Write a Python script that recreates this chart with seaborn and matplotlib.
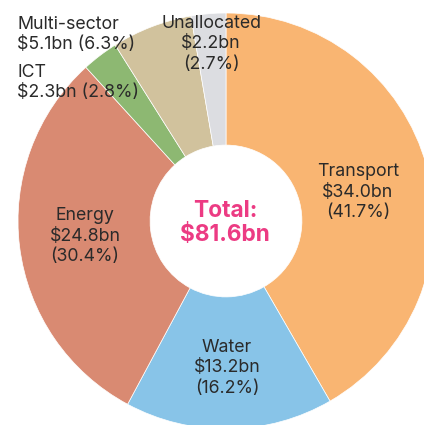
import numpy as np
import matplotlib
matplotlib.use("Agg")
import matplotlib.pyplot as plt
import seaborn as sns

# data (clockwise from 12 o'clock)
sectors = ["Transport", "Water", "Energy", "ICT", "Multi-sector", "Unallocated"]
values = [34.0, 13.2, 24.8, 2.3, 5.1, 2.2]
shares = [41.7, 16.2, 30.4, 2.8, 6.3, 2.7]
colors = ["#F9B572", "#88C4E8", "#D98A72", "#8DB872", "#D1C29D", "#DCDDE1"]
total = 81.6

sns.set_theme(style="white")
plt.rcParams["font.family"] = ["Inter", "DejaVu Sans"]

fig = plt.figure(figsize=(4.24, 4.25), dpi=100)
ax = fig.add_axes([0, 0, 1, 1])

# pixel geometry of the ring in the reference
cx, cy, R = 226, 221, 208
W, H = 424, 425

wedges, _ = ax.pie(values, colors=colors, startangle=90, counterclock=False,
                   radius=1, wedgeprops=dict(width=0.635, edgecolor="white", linewidth=0.5))
ax.set_xlim(-cx / R, (W - cx) / R)
ax.set_ylim(-(H - cy) / R, cy / R)
ax.set_aspect("equal", adjustable="box")
ax.axis("off")


def px(x, y):
    return (x - cx) / R, (cy - y) / R


txt = "#2a2a2a"
fs = 12.8
ls = 1.28

# label anchors (pixel centres in the reference), same order as sectors
anchors = [(358, 192, "center"), (227, 368, "center"), (85, 236, "center"),
           (17, 82.5, "left"), (17, 34.5, "left"), (211, 44, "center")]

for i, (ax_px, ay_px, ha) in enumerate(anchors):
    if ha == "left":
        label = f"{sectors[i]}\n${values[i]:.1f}bn ({shares[i]:.1f}%)"
    else:
        label = f"{sectors[i]}\n${values[i]:.1f}bn\n({shares[i]:.1f}%)"
    x, y = px(ax_px, ay_px)
    ax.text(x, y, label, ha=ha, va="center", fontsize=fs, color=txt, linespacing=ls)

x, y = px(225, 223)
ax.text(x, y, f"Total:\n${total:.1f}bn", ha="center", va="center",
        fontsize=16.3, fontweight="bold", color="#EC3B83", linespacing=1.15)

fig.savefig("out.png", dpi=100)
